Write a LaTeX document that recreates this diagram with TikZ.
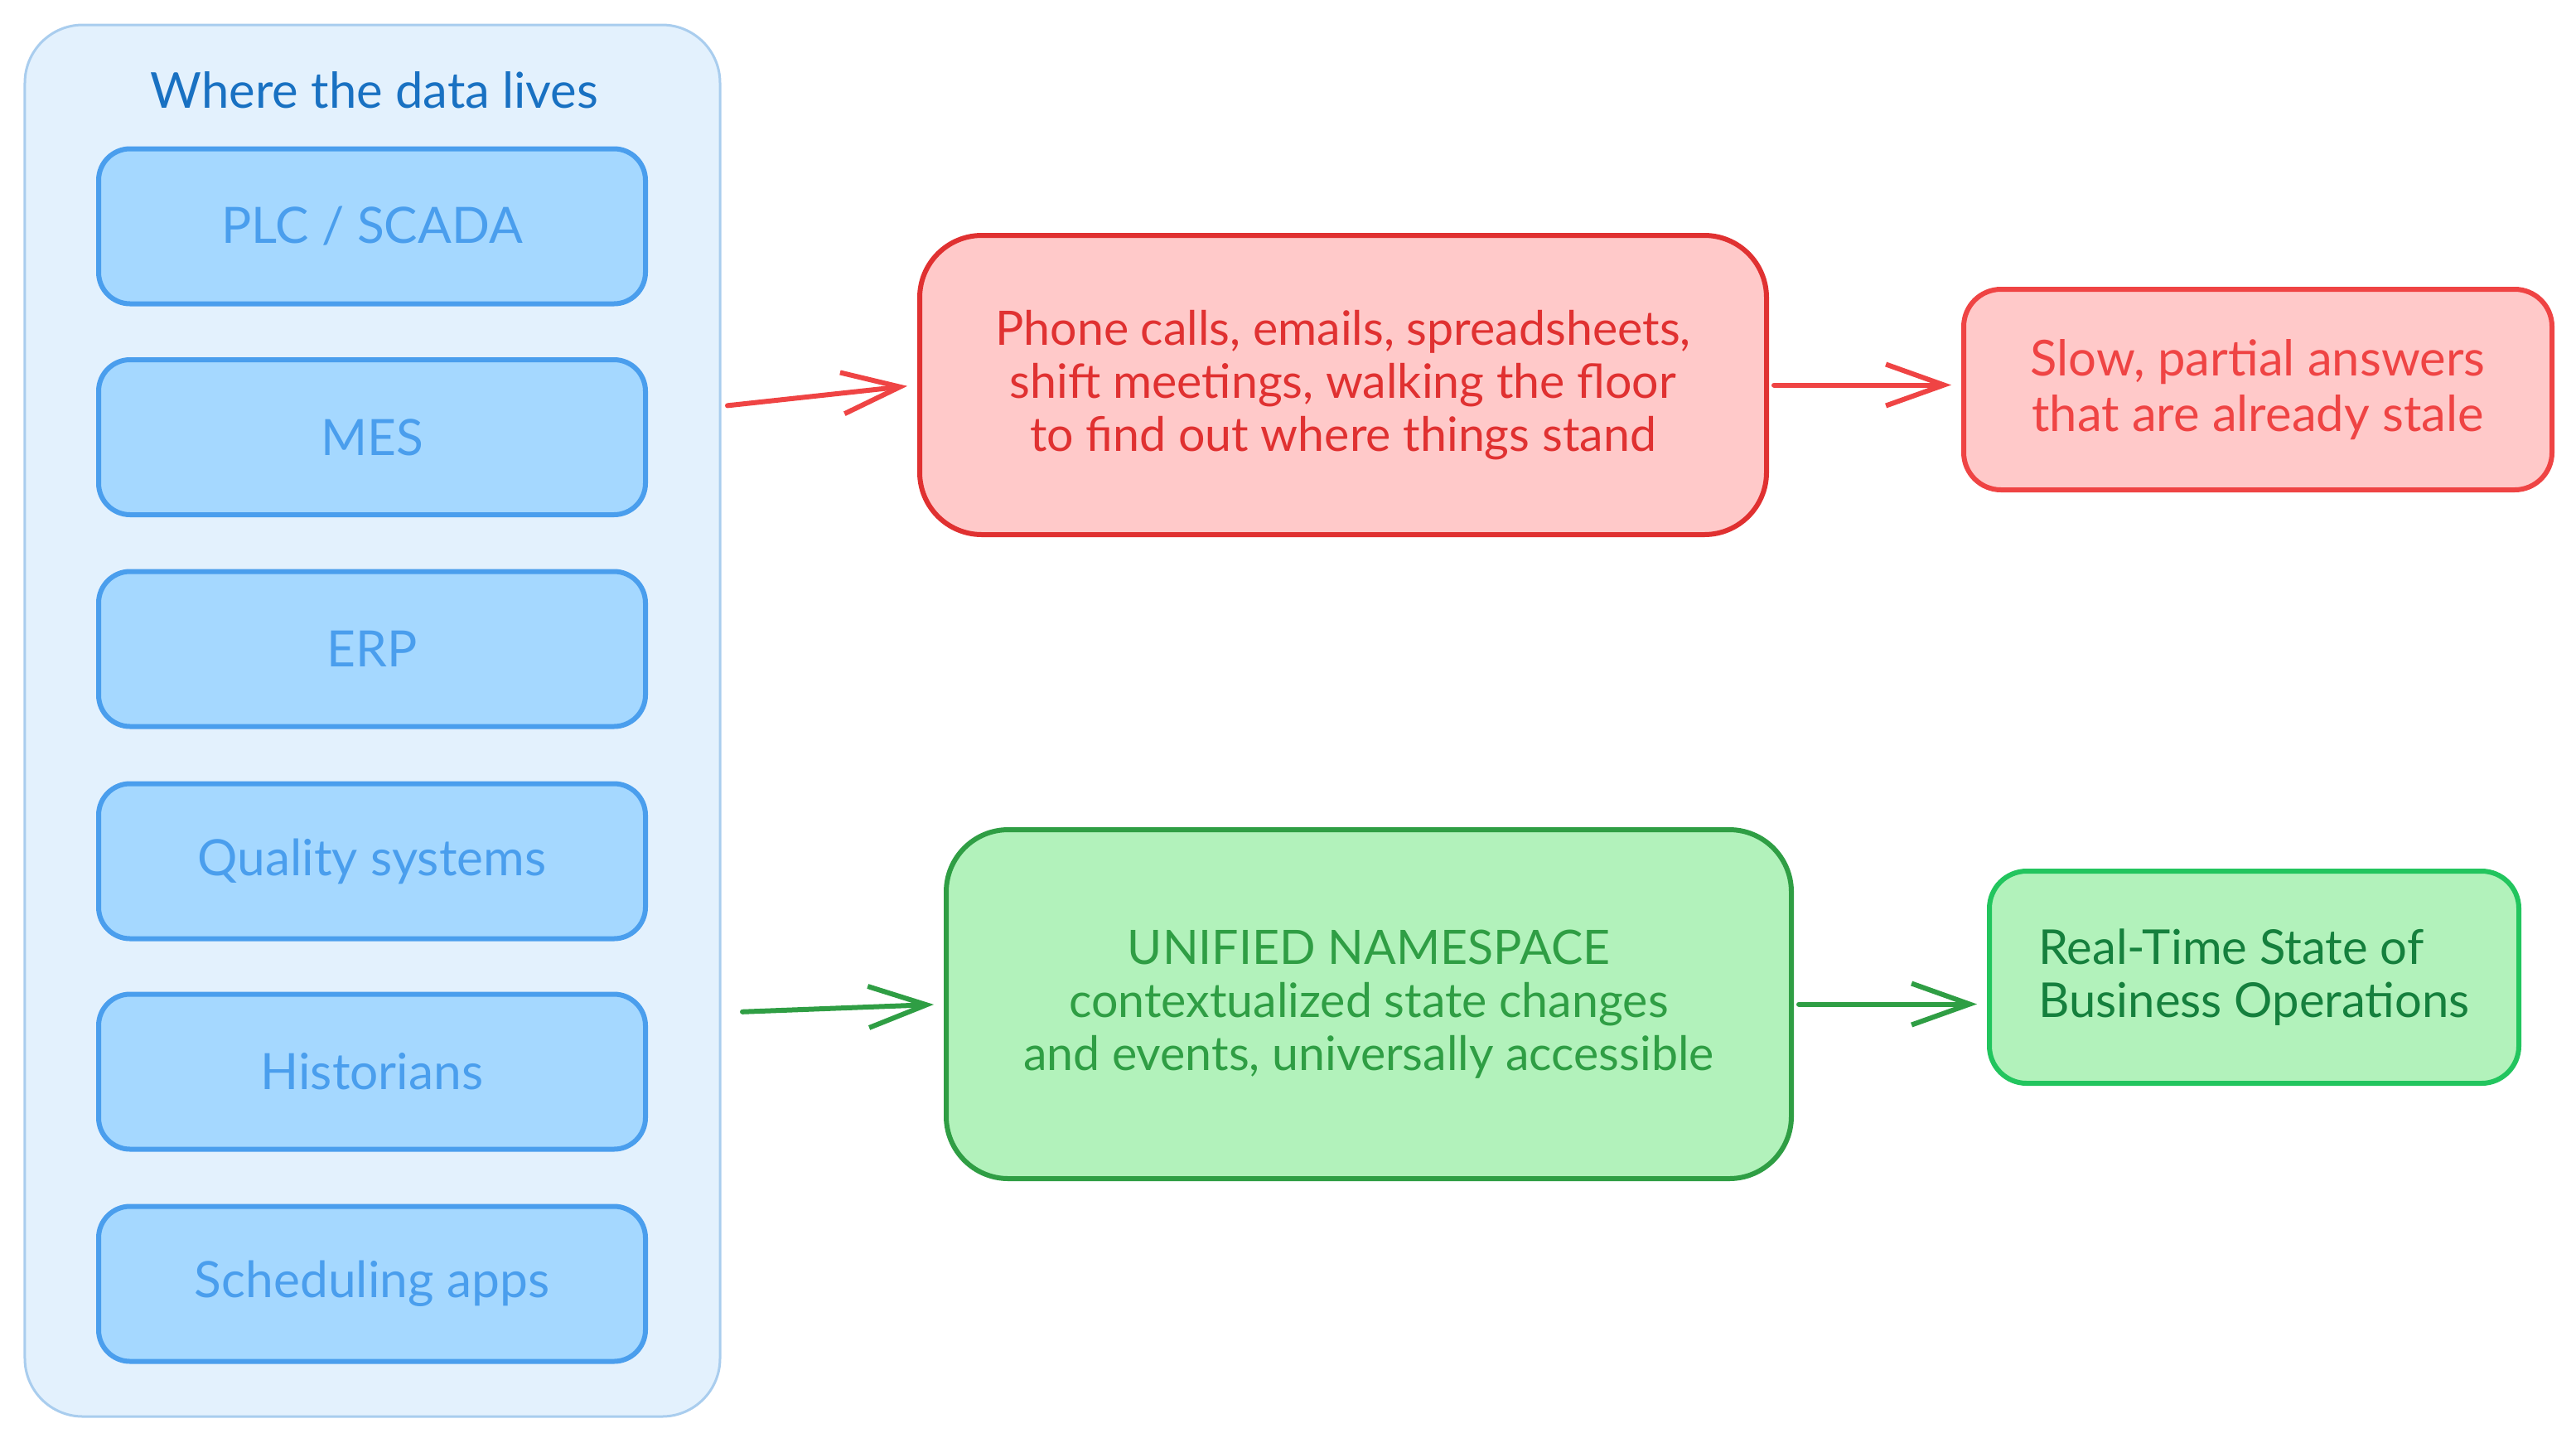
\documentclass[tikz,border=0pt]{standalone}
\usepackage{fontspec}
\setmainfont{Lato}
\usetikzlibrary{arrows.meta}

\definecolor{holderfill}{HTML}{E3F1FD}
\definecolor{holderline}{HTML}{A9CDEE}
\definecolor{titleblue}{HTML}{1971C2}
\definecolor{srcfill}{HTML}{A5D8FF}
\definecolor{srcline}{HTML}{4A9EED}
\definecolor{redfill}{HTML}{FFC9C9}
\definecolor{redline}{HTML}{E03131}
\definecolor{redlight}{HTML}{EF4444}
\definecolor{greenfill}{HTML}{B2F2BB}
\definecolor{greenline}{HTML}{2F9E44}
\definecolor{greenlight}{HTML}{22C55E}
\definecolor{greendark}{HTML}{15803D}

\tikzset{
  holder/.style={draw=holderline, fill=holderfill, line width=0.03cm, rounded corners=0.7cm,
    minimum width=8.39cm, minimum height=16.79cm, inner sep=0pt},
  holdertitle/.style={text=titleblue, font=\fontsize{17}{20}\selectfont},
  srcbox/.style={draw=srcline, fill=srcfill, line width=0.06cm, rounded corners=0.38cm,
    minimum width=6.6cm, minimum height=1.87cm, text=srcline, font=\fontsize{17.2}{20}\selectfont},
  bigbox/.style={line width=0.06cm, rounded corners=0.75cm, align=center,
    font=\fontsize{16.3}{18.3}\selectfont},
  endbox/.style={line width=0.06cm, rounded corners=0.45cm,
    font=\fontsize{16.5}{18.3}\selectfont},
  flow/.style={line width=0.06cm, line cap=round,
    -{Straight Barb[length=0.7cm, width=0.5cm, line width=0.06cm]},
    shorten <=0.06cm, shorten >=0.12cm},
}

\begin{document}
\begin{tikzpicture}
  \useasboundingbox (0,0) rectangle (31.09,-17.40);

  % where the data lives
  \node[holder] (holder) at (4.495,-8.695) {};
  \node[holdertitle] (title) at (4.52,-1.09) {Where the data lives};

  \node[srcbox] (plc) at (4.49,-2.73) {PLC / SCADA};
  \node[srcbox] (mes) at (4.49,-5.275) {MES};
  \node[srcbox] (erp) at (4.49,-7.83) {ERP};
  \node[srcbox] (quality) at (4.49,-10.39) {Quality systems};
  \node[srcbox] (historians) at (4.49,-12.93) {Historians};
  \node[srcbox] (scheduling) at (4.49,-15.49) {Scheduling apps};

  % today
  \node[bigbox, draw=redline, fill=redfill, text=redline, minimum width=10.22cm, minimum height=3.61cm]
    (manual) at (16.21,-4.645) {Phone calls, emails, spreadsheets,\\shift meetings, walking the floor\\to find out where things stand};
  \node[endbox, draw=redlight, fill=redfill, text=redlight, align=center, minimum width=7.1cm, minimum height=2.42cm,
    font=\fontsize{17}{19}\selectfont]
    (stale) at (27.25,-4.70) {Slow, partial answers\\that are already stale};

  % with a UNS
  \node[bigbox, draw=greenline, fill=greenfill, text=greenline, minimum width=10.2cm, minimum height=4.21cm]
    (uns) at (16.52,-12.115) {UNIFIED NAMESPACE\\contextualized state changes\\and events, universally accessible};
  \node[endbox, draw=greenlight, fill=greenfill, text=greendark, align=left, minimum width=6.39cm, minimum height=2.56cm]
    (state) at (27.205,-11.79) {Real-Time State of\\Business Operations};

  \coordinate (redstart) at (8.72,-4.90);
  \coordinate (greenstart) at (8.90,-12.21);

  \draw[flow, redlight] (redstart) -- (manual.west);
  \draw[flow, redlight] (manual.east) -- (manual.east -| stale.west);
  \draw[flow, greenline] (greenstart) -- (uns.west);
  \draw[flow, greenline] (uns.east) -- (uns.east -| state.west);
\end{tikzpicture}
\end{document}
